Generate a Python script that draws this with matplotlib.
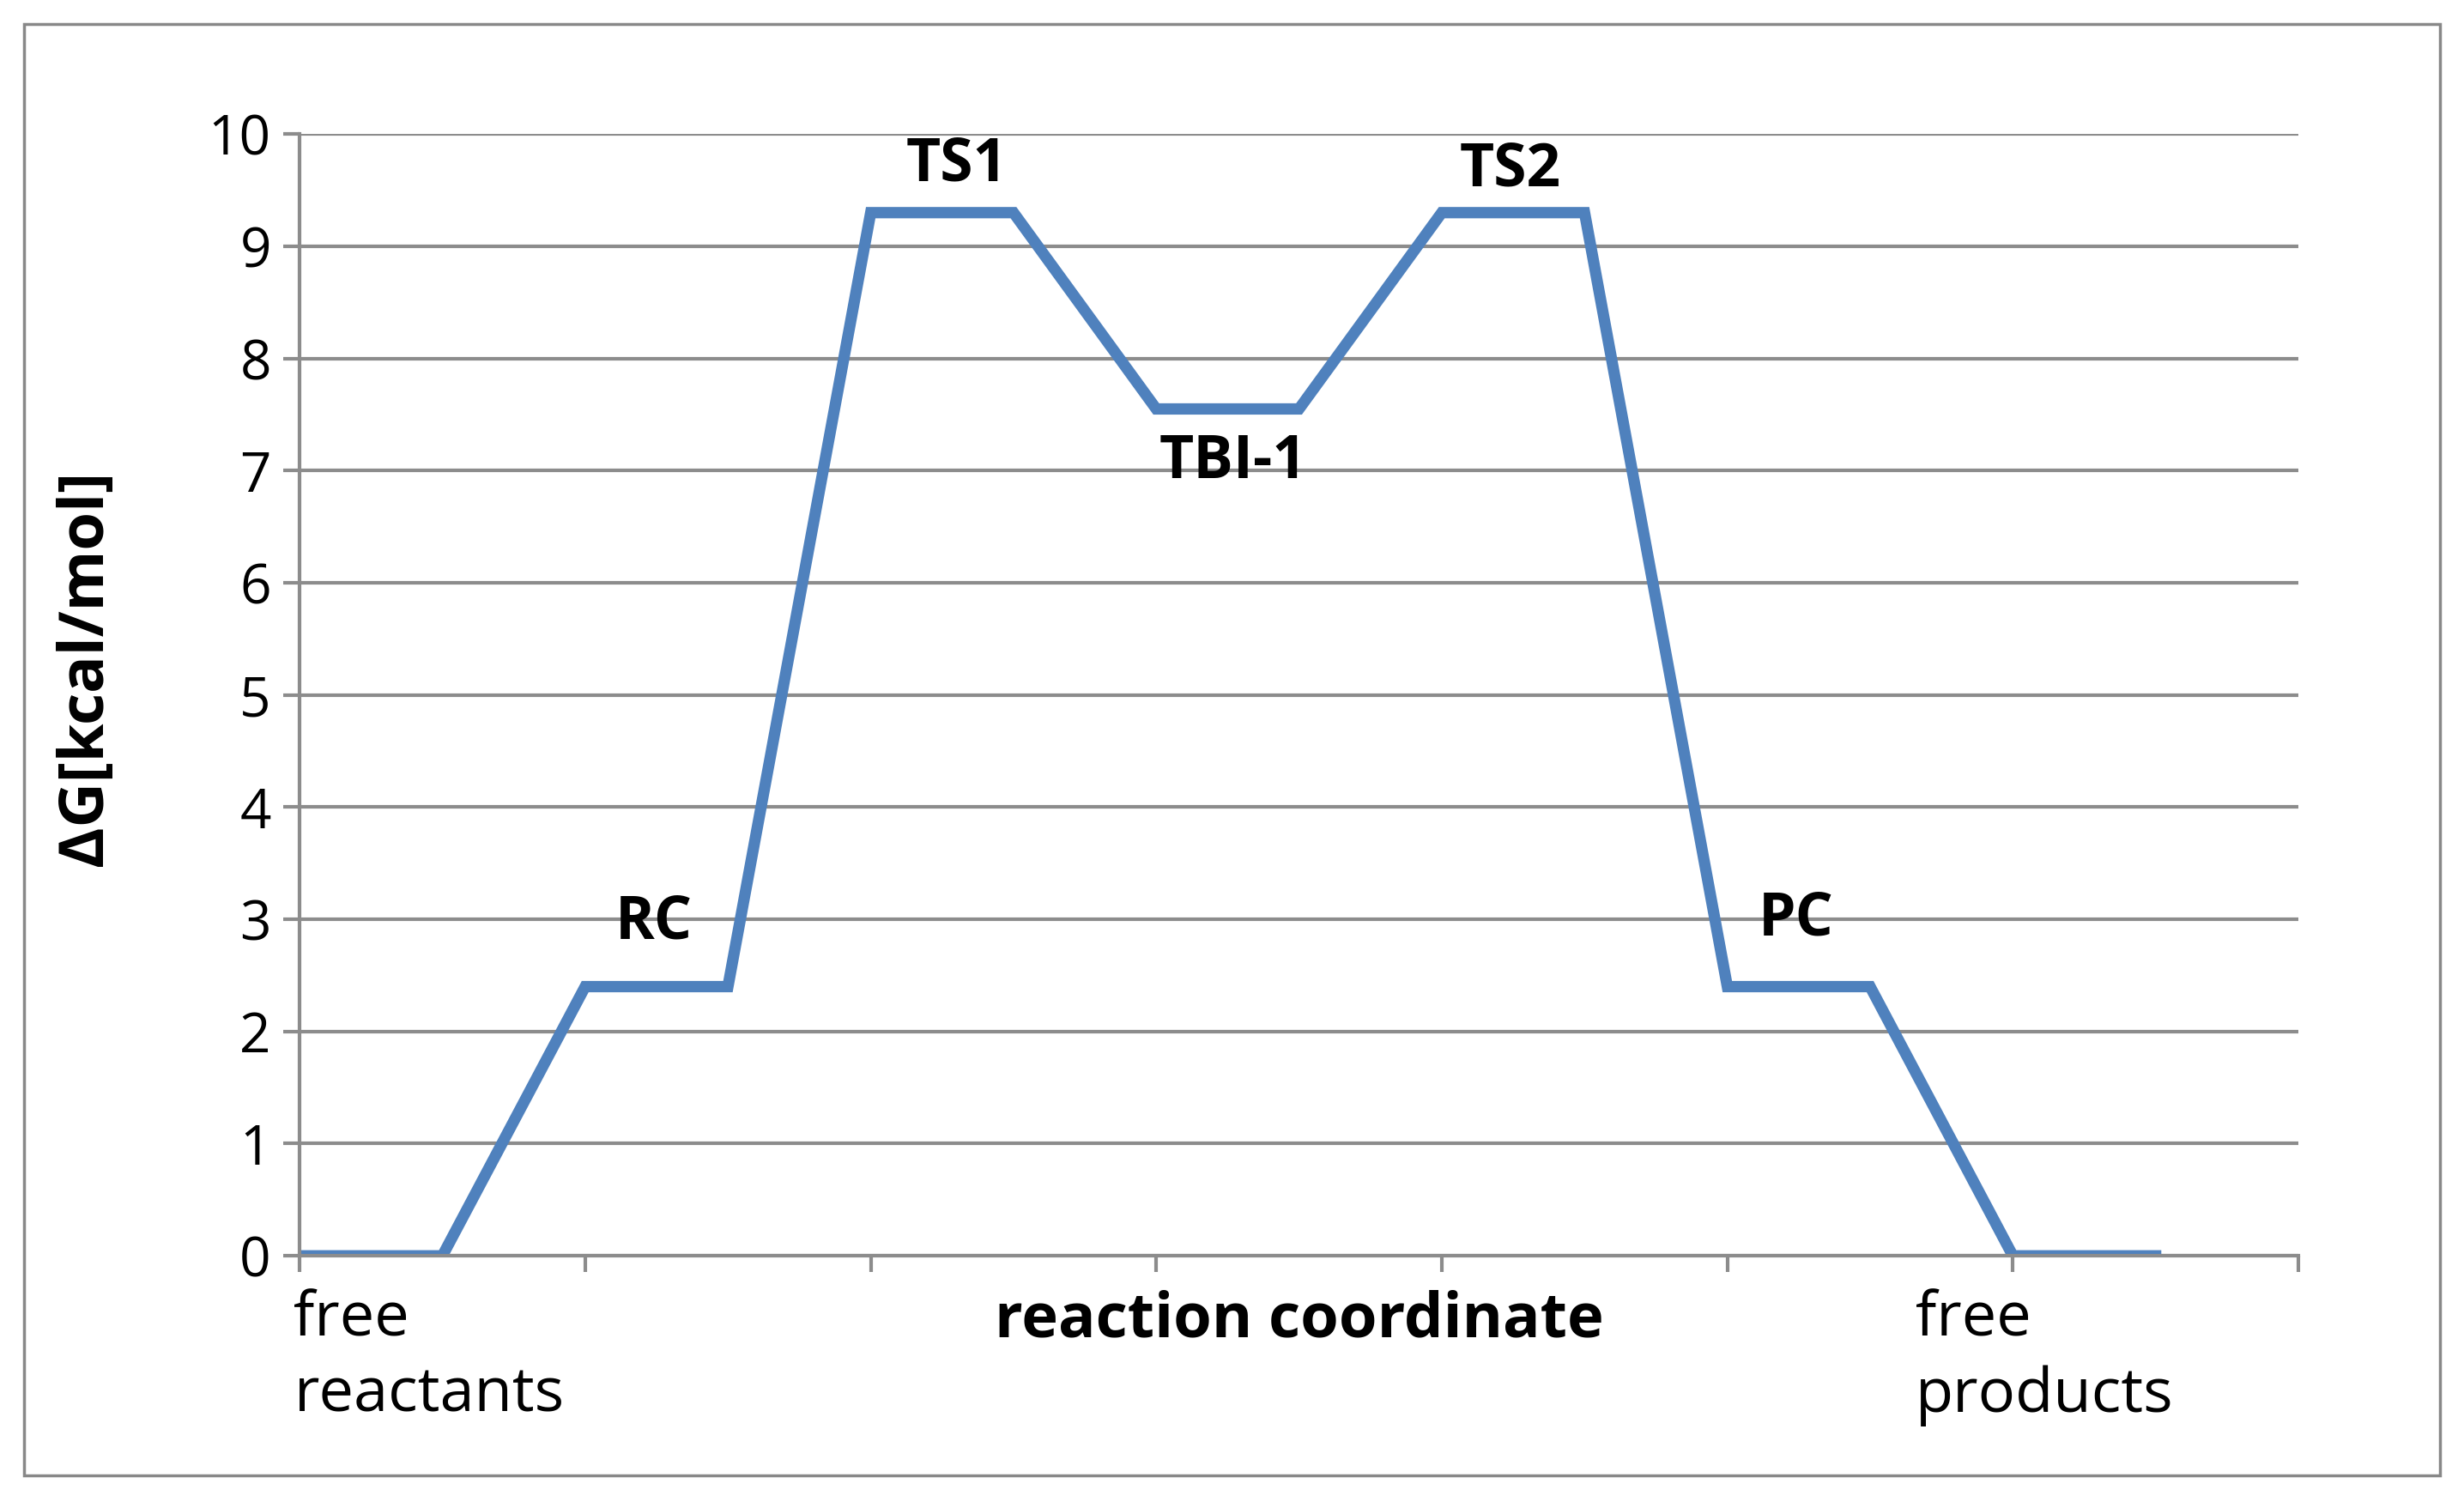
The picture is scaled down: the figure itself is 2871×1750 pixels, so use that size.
import matplotlib
matplotlib.use("Agg")
import matplotlib.pyplot as plt
from matplotlib.patches import Rectangle

x_pos = [0, 0.5, 1, 1.5, 2, 2.5, 3, 3.5, 4, 4.5, 5, 5.5, 6, 6.5]
energy = [0, 0, 2.4, 2.4, 9.3, 9.3, 7.55, 7.55, 9.3, 9.3, 2.4, 2.4, 0, 0]
labels = ["TS1", "TS2", "TBI-1", "RC", "PC"]
label_x = [2.30, 4.24, 3.27, 1.24, 5.24]
label_y = [9.72, 9.68, 7.07, 2.97, 3.0]
yticks = list(range(0, 11))

plt.rcParams['font.family'] = ['Open Sans', 'DejaVu Sans']
fig = plt.figure(figsize=(28.71, 17.5), dpi=100)
fig.patches.append(Rectangle((0.0096, 0.018), 0.9808, 0.966, transform=fig.transFigure,
                             fill=False, edgecolor='#888888', linewidth=2.5))
ax = fig.add_axes([0.1216, 0.1639, 0.8112, 0.7468])
ax.set_xlim(0, 7)
ax.set_ylim(0, 10)
ax.set_yticks(yticks)
ax.set_xticks(range(8))
ax.set_xticklabels([])
ax.grid(axis='y', color='#8c8c8c', linewidth=3)
ax.set_axisbelow(True)
for s in ['top', 'right']:
    ax.spines[s].set_visible(False)
for s in ['left', 'bottom']:
    ax.spines[s].set_color('#8c8c8c')
    ax.spines[s].set_linewidth(3)
ax.tick_params(axis='both', color='#8c8c8c', width=3, length=14, labelsize=46, pad=10)
ax.plot(x_pos, energy, color='#4f81bd', linewidth=9.5, solid_joinstyle='miter')
for t, lx, ly in zip(labels, label_x, label_y):
    ax.text(lx, ly, t, ha='center', va='center', fontsize=50, fontweight='bold')
ax.text(-0.02, -0.3, "free\nreactants", ha='left', va='top', fontsize=52, linespacing=1.3)
ax.text(5.66, -0.3, "free\nproducts", ha='left', va='top', fontsize=52, linespacing=1.3)
ax.text(3.5, -0.58, "reaction coordinate", ha='center', va='center', fontsize=52, fontweight='bold')
fig.text(0.035, 0.555, "ΔG[kcal/mol]", rotation=90, ha='center', va='center', fontsize=52, fontweight='bold')
fig.savefig("out.png", dpi=100, facecolor='white')
